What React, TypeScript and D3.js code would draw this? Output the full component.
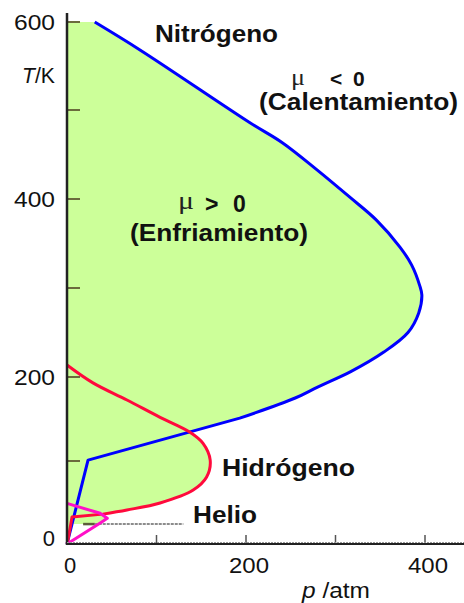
import React from "react";
import * as d3 from "d3";

type Pt = [number, number]; // [p (atm), T (K)]

// Nitrogen inversion curve (smooth part, then straight segments to origin)
const nitrogenUpper: Pt[] = [
  [31, 600], [82, 568], [204, 486], [241, 463], [279, 433], [316, 402],
  [346, 376], [372, 346], [385, 326], [394, 303], [396.5, 292], [393, 272],
  [381, 250], [354, 228], [317, 206], [280, 188], [255, 175], [193, 151],
];
const nitrogenLower: Pt[] = [[193, 151], [23.5, 101], [0, 0]];

// Hydrogen inversion curve
const hydrogenUpper: Pt[] = [
  [0, 213.5], [29, 193], [67, 172.6], [104, 152], [137, 134.5], [152, 121],
  [160, 101], [156, 80.7], [141, 65], [104, 49.4], [67, 41], [40, 36],
];
const hydrogenLower: Pt[] = [[40, 36], [5.6, 32.5], [1, 4], [0, 0]];

// Helium inversion curve
const helium: Pt[] = [[0, 49], [37, 37], [45, 31], [38, 26], [0, 0]];
const heliumFill: Pt[] = [[0, 49], [37, 37], [45, 31], [38, 26], [35, 24], [0, 24]];

// Leader line near "Helio"
const helioLineDark: Pt[] = [[18, 24], [31, 24]];
const helioLineGray: Pt[] = [[31, 24], [130, 24]];

const yTicks = [100, 200, 300, 400, 500, 600];
const yTickLabels = [0, 200, 400, 600];
const xTicks = [100, 200, 300, 400];
const xTickLabels = [0, 200, 400];

const W = 464;
const H = 603;

export default function App() {
  const x = d3.scaleLinear().domain([0, 400]).range([67, 425]);
  const y = d3
    .scaleLinear()
    .domain([0, 100, 200, 300, 400, 500, 600])
    .range([544, 461, 377, 288, 199, 110, 22]);

  const curve = d3
    .line<Pt>()
    .x((d) => x(d[0]))
    .y((d) => y(d[1]))
    .curve(d3.curveCatmullRom.alpha(0.5));
  const lin = d3
    .line<Pt>()
    .x((d) => x(d[0]))
    .y((d) => y(d[1]));

  const nPath = (curve(nitrogenUpper) || "") + (lin(nitrogenLower) || "").replace(/^M/, "L");
  const hPath = (curve(hydrogenUpper) || "") + (lin(hydrogenLower) || "").replace(/^M/, "L");
  const hePath = lin(helium) || "";

  const nFill = nPath + `L${x(0)},${y(600)}Z`;
  const hFill = hPath + `L${x(0)},${y(213.5)}Z`;
  const heFill = (lin(heliumFill) || "") + "Z";

  const green = "#ccff99";
  const font = "'Liberation Sans', Arial, sans-serif";
  const serif = "'Liberation Serif', 'Times New Roman', serif";

  return (
    <div style={{ position: "fixed", left: 0, top: 0 }}>
      <svg width={W} height={H} style={{ display: "block", background: "#fff" }}>
        {/* fills */}
        <path d={nFill} fill={green} stroke="none" />
        <path d={hFill} fill={green} stroke="none" />
        <path d={heFill} fill={green} stroke="none" />

        {/* y ticks */}
        {yTicks.map((t) => (
          <line key={t} x1={x(0)} x2={x(0) + 13} y1={y(t)} y2={y(t)} stroke="#6b6b3c" strokeWidth={2} />
        ))}
        {/* x ticks */}
        {xTicks.map((t) => (
          <line key={t} x1={x(t)} x2={x(t)} y1={y(0)} y2={y(0) - 9} stroke="#555" strokeWidth={1.5} />
        ))}

        {/* helio leader line */}
        <path d={lin(helioLineGray) || ""} stroke="#8c8c8c" strokeWidth={2} fill="none" strokeDasharray="3 1" />
        <path d={lin(helioLineDark) || ""} stroke="#5c5c3a" strokeWidth={2.5} fill="none" />

        {/* curves */}
        <path d={nPath} fill="none" stroke="#0000ff" strokeWidth={3} strokeLinejoin="round" />
        <path d={hPath} fill="none" stroke="#ff0a3c" strokeWidth={3} strokeLinejoin="round" />
        <path d={hePath} fill="none" stroke="#ff10c8" strokeWidth={3} strokeLinejoin="round" />

        {/* axes */}
        <line x1={x(0)} x2={x(0)} y1={13} y2={y(0) + 1} stroke="#222" strokeWidth={2.5} />
        <line x1={x(0) - 1} x2={W} y1={y(0)} y2={y(0)} stroke="#222" strokeWidth={2} />
        <line x1={x(0)} x2={W} y1={y(0) - 1.5} y2={y(0) - 1.5} stroke="#999" strokeWidth={1} strokeDasharray="2 1" />

        {/* y tick labels */}
        {yTickLabels.map((t) => {
          const s = String(t);
          return (
            <text
              key={t}
              x={55}
              y={Math.min(y(t), 538) + 8}
              textAnchor="end"
              fontFamily={font}
              fontSize={22}
              fill="#111"
              textLength={s.length > 1 ? 41 : undefined}
              lengthAdjust="spacingAndGlyphs"
            >
              {s}
            </text>
          );
        })}
        {/* x tick labels */}
        {xTickLabels.map((t) => {
          const s = String(t);
          return (
            <text
              key={t}
              x={x(t) + 3}
              y={573}
              textAnchor="middle"
              fontFamily={font}
              fontSize={22}
              fill="#111"
              textLength={s.length > 1 ? 40 : undefined}
              lengthAdjust="spacingAndGlyphs"
            >
              {s}
            </text>
          );
        })}

        {/* axis titles */}
        <text x={22} y={83} fontFamily={font} fontSize={22} fill="#111" textLength={33} lengthAdjust="spacingAndGlyphs">
          <tspan fontStyle="italic">T</tspan>/K
        </text>
        <text x={302} y={598} fontFamily={font} fontSize={22} fill="#111" textLength={68} lengthAdjust="spacingAndGlyphs">
          <tspan fontStyle="italic">p</tspan> /atm
        </text>

        {/* region labels */}
        <text x={155} y={42} fontFamily={font} fontWeight="bold" fontSize={23} fill="#111" textLength={123} lengthAdjust="spacingAndGlyphs">
          Nitrógeno
        </text>

        <text x={291} y={85} fontFamily={serif} fontSize={24} fill="#222" textLength={14} lengthAdjust="spacingAndGlyphs">μ</text>
        <text x={330} y={86} fontFamily={font} fontWeight="bold" fontSize={21} fill="#111">&lt;</text>
        <text x={353} y={86} fontFamily={font} fontWeight="bold" fontSize={21} fill="#111">0</text>
        <text x={259} y={110} fontFamily={font} fontWeight="bold" fontSize={23} fill="#111" textLength={199} lengthAdjust="spacingAndGlyphs">
          (Calentamiento)
        </text>

        <text x={178} y={209} fontFamily={serif} fontSize={25} fill="#222" textLength={16} lengthAdjust="spacingAndGlyphs">μ</text>
        <text x={205} y={212} fontFamily={font} fontWeight="bold" fontSize={23} fill="#111">&gt;</text>
        <text x={233} y={212} fontFamily={font} fontWeight="bold" fontSize={23} fill="#111">0</text>
        <text x={130} y={241} fontFamily={font} fontWeight="bold" fontSize={23} fill="#111" textLength={178} lengthAdjust="spacingAndGlyphs">
          (Enfriamiento)
        </text>

        <text x={222} y={476} fontFamily={font} fontWeight="bold" fontSize={23} fill="#111" textLength={133} lengthAdjust="spacingAndGlyphs">
          Hidrógeno
        </text>
        <text x={193} y={523} fontFamily={font} fontWeight="bold" fontSize={23} fill="#111" textLength={64} lengthAdjust="spacingAndGlyphs">
          Helio
        </text>
      </svg>
    </div>
  );
}
